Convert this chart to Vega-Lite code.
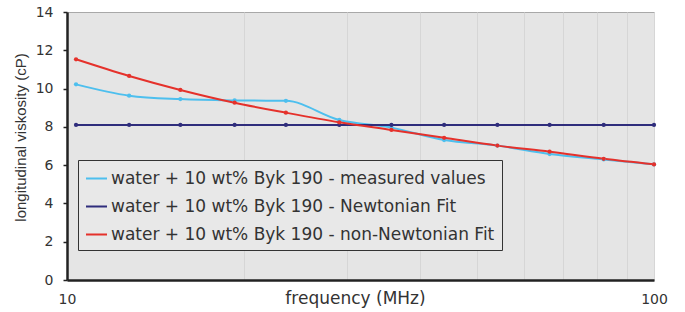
{
  "$schema": "https://vega.github.io/schema/vega-lite/v6.json",
  "width": 587,
  "height": 268,
  "autosize": {"type": "none"},
  "padding": {"left": 67, "top": 12, "right": 31, "bottom": 32},
  "background": "white",
  "config": {
    "view": {"fill": "#e5e5e5", "stroke": "#a8a8a8", "strokeWidth": 1}
  },
  "data": {
    "values": [
      {"series": "water + 10 wt% Byk 190 - measured values", "f": 10.36, "v": 10.22},
      {"series": "water + 10 wt% Byk 190 - measured values", "f": 12.76, "v": 9.63},
      {"series": "water + 10 wt% Byk 190 - measured values", "f": 15.6, "v": 9.45},
      {"series": "water + 10 wt% Byk 190 - measured values", "f": 19.3, "v": 9.38},
      {"series": "water + 10 wt% Byk 190 - measured values", "f": 23.6, "v": 9.36},
      {"series": "water + 10 wt% Byk 190 - measured values", "f": 29.1, "v": 8.36},
      {"series": "water + 10 wt% Byk 190 - measured values", "f": 35.7, "v": 7.96},
      {"series": "water + 10 wt% Byk 190 - measured values", "f": 43.9, "v": 7.31},
      {"series": "water + 10 wt% Byk 190 - measured values", "f": 54.1, "v": 7.02},
      {"series": "water + 10 wt% Byk 190 - measured values", "f": 66.4, "v": 6.58},
      {"series": "water + 10 wt% Byk 190 - measured values", "f": 82.1, "v": 6.3},
      {"series": "water + 10 wt% Byk 190 - measured values", "f": 100, "v": 6.04},
      {"series": "water + 10 wt% Byk 190 - Newtonian Fit", "f": 10.36, "v": 8.1},
      {"series": "water + 10 wt% Byk 190 - Newtonian Fit", "f": 12.76, "v": 8.1},
      {"series": "water + 10 wt% Byk 190 - Newtonian Fit", "f": 15.6, "v": 8.1},
      {"series": "water + 10 wt% Byk 190 - Newtonian Fit", "f": 19.3, "v": 8.1},
      {"series": "water + 10 wt% Byk 190 - Newtonian Fit", "f": 23.6, "v": 8.1},
      {"series": "water + 10 wt% Byk 190 - Newtonian Fit", "f": 29.1, "v": 8.1},
      {"series": "water + 10 wt% Byk 190 - Newtonian Fit", "f": 35.7, "v": 8.1},
      {"series": "water + 10 wt% Byk 190 - Newtonian Fit", "f": 43.9, "v": 8.1},
      {"series": "water + 10 wt% Byk 190 - Newtonian Fit", "f": 54.1, "v": 8.1},
      {"series": "water + 10 wt% Byk 190 - Newtonian Fit", "f": 66.4, "v": 8.1},
      {"series": "water + 10 wt% Byk 190 - Newtonian Fit", "f": 82.1, "v": 8.1},
      {"series": "water + 10 wt% Byk 190 - Newtonian Fit", "f": 100, "v": 8.1},
      {"series": "water + 10 wt% Byk 190 - non-Newtonian Fit", "f": 10.36, "v": 11.53},
      {"series": "water + 10 wt% Byk 190 - non-Newtonian Fit", "f": 12.76, "v": 10.66},
      {"series": "water + 10 wt% Byk 190 - non-Newtonian Fit", "f": 15.6, "v": 9.93},
      {"series": "water + 10 wt% Byk 190 - non-Newtonian Fit", "f": 19.3, "v": 9.26},
      {"series": "water + 10 wt% Byk 190 - non-Newtonian Fit", "f": 23.6, "v": 8.74},
      {"series": "water + 10 wt% Byk 190 - non-Newtonian Fit", "f": 29.1, "v": 8.24},
      {"series": "water + 10 wt% Byk 190 - non-Newtonian Fit", "f": 35.7, "v": 7.84},
      {"series": "water + 10 wt% Byk 190 - non-Newtonian Fit", "f": 43.9, "v": 7.43},
      {"series": "water + 10 wt% Byk 190 - non-Newtonian Fit", "f": 54.1, "v": 7.02},
      {"series": "water + 10 wt% Byk 190 - non-Newtonian Fit", "f": 66.4, "v": 6.7},
      {"series": "water + 10 wt% Byk 190 - non-Newtonian Fit", "f": 82.1, "v": 6.33},
      {"series": "water + 10 wt% Byk 190 - non-Newtonian Fit", "f": 100, "v": 6.04}
    ]
  },
  "encoding": {
    "x": {
      "field": "f",
      "type": "quantitative",
      "scale": {"type": "log", "domain": [10, 100], "nice": false},
      "axis": {
        "title": "frequency (MHz)",
        "values": [10, 20, 30, 40, 50, 60, 70, 80, 90, 100],
        "labelExpr": "datum.value == 10 || datum.value == 100 ? datum.label : ''",
        "grid": true,
        "gridColor": "#d6d6d6",
        "gridWidth": 1,
        "ticks": false,
        "tickSize": 0,
        "domainColor": "#222222",
        "domainWidth": 2.5,
        "labelFont": "DejaVu Sans",
        "labelFontSize": 14,
        "labelColor": "#333333",
        "labelPadding": 12,
        "labelFlush": false,
        "labelOverlap": false,
        "titleFont": "DejaVu Sans",
        "titleFontSize": 17,
        "titleFontWeight": "normal",
        "titleColor": "#333333",
        "titleX": 288,
        "titleY": 23,
        "titleBaseline": "alphabetic",
        "titleAlign": "center"
      }
    },
    "y": {
      "field": "v",
      "type": "quantitative",
      "scale": {"domain": [0, 14], "nice": false},
      "axis": {
        "title": "longitudinal viskosity (cP)",
        "values": [0, 2, 4, 6, 8, 10, 12, 14],
        "grid": false,
        "ticks": true,
        "tickSize": 4,
        "tickColor": "#222222",
        "tickWidth": 1.5,
        "domainColor": "#222222",
        "domainWidth": 2.5,
        "labelFont": "DejaVu Sans",
        "labelFontSize": 14,
        "labelColor": "#333333",
        "labelPadding": 10,
        "titleFont": "Liberation Sans",
        "titleFontSize": 15,
        "titleFontWeight": "normal",
        "titleColor": "#333333",
        "titleAngle": -90,
        "titleX": -42,
        "titleY": 125,
        "titleAlign": "center",
        "titleBaseline": "alphabetic"
      }
    },
    "color": {
      "field": "series",
      "type": "nominal",
      "scale": {
        "domain": [
          "water + 10 wt% Byk 190 - measured values",
          "water + 10 wt% Byk 190 - Newtonian Fit",
          "water + 10 wt% Byk 190 - non-Newtonian Fit"
        ],
        "range": ["#4dbfee", "#2f2d7c", "#e5312b"]
      },
      "legend": {
        "title": null,
        "orient": "none",
        "legendX": 11,
        "legendY": 148,
        "padding": 7,
        "fillColor": "#e8e8e8",
        "strokeColor": "#333333",
        "symbolType": "stroke",
        "symbolSize": 441,
        "symbolStrokeWidth": 2,
        "labelFont": "DejaVu Sans",
        "labelFontSize": 17,
        "labelColor": "#333333",
        "labelOffset": 3,
        "labelLimit": 500,
        "rowPadding": 8
      }
    }
  },
  "layer": [
    {
      "mark": {"type": "line", "interpolate": "monotone", "strokeWidth": 2}
    },
    {
      "mark": {"type": "point", "filled": true, "size": 18, "opacity": 1}
    }
  ]
}
